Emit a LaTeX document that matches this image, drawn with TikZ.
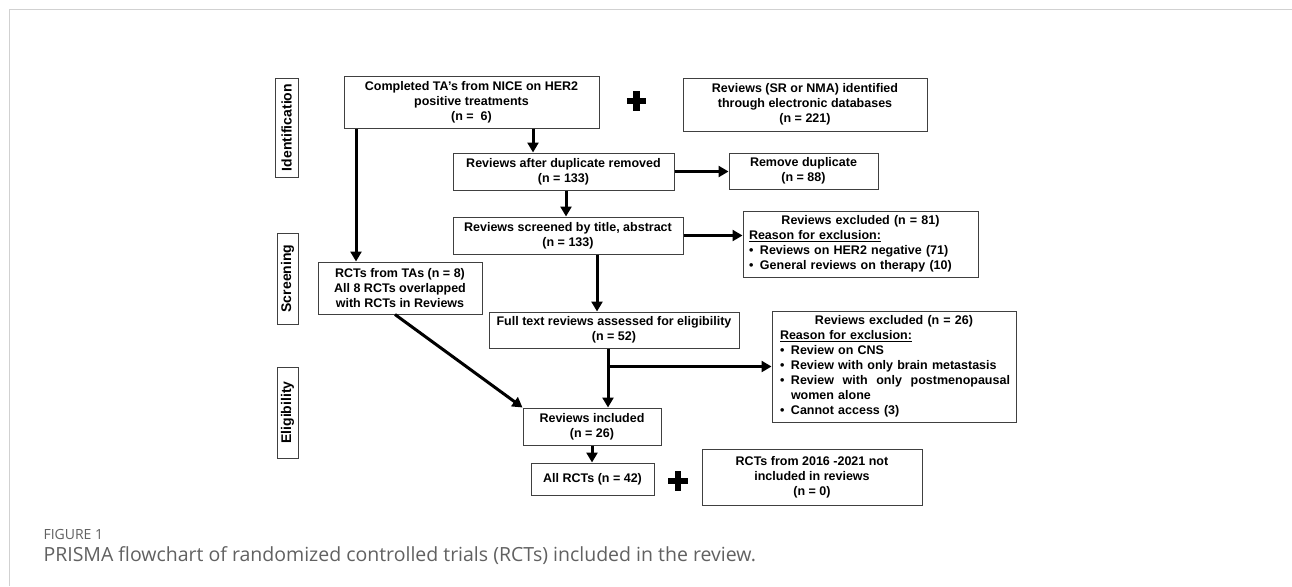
\documentclass[tikz,border=0pt]{standalone}
\usepackage{fontspec}
\setmainfont{Liberation Sans}
\newfontfamily\capfont{Open Sans}
\usetikzlibrary{arrows.meta,calc}
\newcommand{\bul}{\makebox[11pt][l]{\textbullet}}
\newcommand{\bind}{\hspace*{11pt}}
\begin{document}
\begin{tikzpicture}[x=1pt,y=-1pt,
  box/.style={draw=black!75, line width=1pt, fill=white, inner sep=2pt, align=center,
    font=\bfseries\fontsize{12.5}{15}\selectfont},
  listbox/.style={box, align=left, inner xsep=6pt},
  lab/.style={draw=black!75, line width=1pt, rotate=90, inner sep=1pt,
    font=\bfseries\fontsize{14}{16}\selectfont},
  arr/.style={line width=3pt, -{Triangle[length=10pt,width=11pt]}},
  plusarm/.style={line width=6.5pt},
  frame/.style={draw=black!18, line width=1.3pt},
  captxt/.style={anchor=base west, text=black!62},
]
\useasboundingbox (0,0) rectangle (1292,586);
\fill[white] (0,0) rectangle (1292,586);
\draw[frame] (9.5,586) -- (9.5,9.5) -- (1292,9.5);

% stage labels
\node[lab, minimum width=99pt, minimum height=23pt] (ident) at (286.5,127.5) {Identification};
\node[lab, minimum width=91pt, minimum height=21pt] (screen) at (287.5,278.5) {Screening};
\node[lab, minimum width=91pt, minimum height=21pt] (elig) at (287.5,412.5) {Eligibility};

% boxes
\node[box, minimum width=255pt, minimum height=52pt] (A) at (471.5,102)
  {Completed TA’s from NICE on HER2\\positive treatments\\(n =\ \ 6)};
\node[box, minimum width=244pt, minimum height=53pt] (B) at (805,104.5)
  {Reviews (SR or NMA) identified\\through electronic databases\\(n = 221)};
\node[box, minimum width=221pt, minimum height=37pt] (C) at (563.5,171.5)
  {Reviews after duplicate removed\\(n = 133)};
\node[box, minimum width=149pt, minimum height=36pt] (E) at (803.5,171)
  {Remove duplicate\\(n = 88)};
\node[box, minimum width=230pt, minimum height=37pt] (D) at (568,235.5)
  {Reviews screened by title, abstract\\(n = 133)};
\node[listbox, text width=223pt, minimum height=66pt] (F) at (860.5,244)
  {\makebox[223pt][c]{Reviews excluded (n = 81)}\\
   \underline{Reason for exclusion:}\\
   \bul Reviews on HER2 negative (71)\\
   \bul General reviews on therapy (10)};
\node[box, minimum width=164pt, minimum height=52pt] (G) at (400,288)
  {RCTs from TAs (n = 8)\\All 8 RCTs overlapped\\with RCTs in Reviews};
\node[box, minimum width=250pt, minimum height=36pt] (H) at (614,330)
  {Full text reviews assessed for eligibility\\(n = 52)};
\node[listbox, inner xsep=8pt, text width=228pt, minimum height=111pt] (J) at (894,366.5)
  {\makebox[228pt][c]{Reviews excluded (n = 26)}\\
   \underline{Reason for exclusion:}\\
   \bul Review on CNS\\
   \bul\mbox{Review with only brain metastasis}\\
   \bul\makebox[219pt][l]{Review\hfill with\hfill only\hfill postmenopausal}\\
   \bind women alone\\
   \bul Cannot access (3)};
\node[box, minimum width=138pt, minimum height=37pt] (I) at (592,426.5)
  {Reviews included\\(n = 26)};
\node[box, minimum width=123pt, minimum height=32pt] (K) at (592.5,479)
  {All RCTs (n = 42)};
\node[box, minimum width=220pt, minimum height=56pt] (L) at (812,477)
  {RCTs from 2016 -2021 not\\included in reviews\\(n = 0)};

% plus signs
\node[inner sep=0pt, minimum size=19pt] (p1) at (636.5,101) {};
\node[inner sep=0pt, minimum size=19pt] (p2) at (678,481) {};
\foreach \p in {p1,p2}{
  \draw[plusarm] (\p.west) -- (\p.east);
  \draw[plusarm] (\p.north) -- (\p.south);
}

% connectors
\draw[arr] ([xshift=-30.5pt]C.north |- A.south) -- ([xshift=-30.5pt]C.north);
\draw[arr] ([xshift=2.5pt]C.south) -- ([xshift=2.5pt]C.south |- D.north);
\draw[arr] (C.east) -- (C.east -| E.west);
\draw[arr] (D.east) -- (D.east -| F.west);
\draw[arr] ([xshift=-44pt]G.north |- A.south) -- ([xshift=-44pt]G.north);
\draw[arr] ([xshift=29pt]D.south) -- ([xshift=29pt]D.south |- H.north);
\draw[arr] ([xshift=16pt]I.north |- H.south) -- ([xshift=16pt]I.north);
\coordinate (br) at ([xshift=16pt]I.north |- J.west);
\draw[arr] (br) -- (J.west);
\draw[arr] ([xshift=-5pt]G.south) -- (I.north west);
\draw[arr] (I.south) -- (I.south |- K.north);

% caption
\node[captxt, font=\capfont\fontsize{14}{16}\selectfont] (fig) at (40,539) {FIGURE 1};
\node[captxt, font=\capfont\fontsize{19.5}{22}\selectfont] (cap) at (40,561)
  {PRISMA flowchart of randomized controlled trials (RCTs) included in the review.};
\end{tikzpicture}
\end{document}
